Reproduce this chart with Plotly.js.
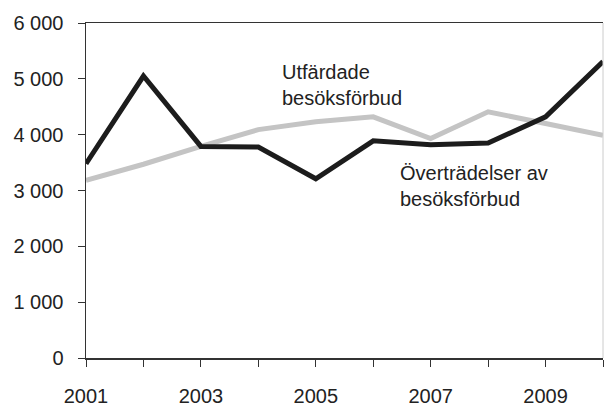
<!DOCTYPE html>
<html>
<head>
<meta charset="utf-8">
<script src="https://cdn.plot.ly/plotly-3.0.1.min.js"></script>
<style>
  html, body { margin: 0; padding: 0; background: #fff; }
  #chart { width: 604px; height: 406px; }
</style>
</head>
<body>
<div id="chart"></div>
<script>
// years and the two series
var years = [2001, 2002, 2003, 2004, 2005, 2006, 2007, 2008, 2009, 2010];
var utfardade = [3480, 5050, 3790, 3780, 3210, 3890, 3820, 3850, 4320, 5310];
var overtradelser = [3180, 3470, 3790, 4090, 4230, 4320, 3930, 4410, 4200, 3990];
var xTickLabels = ['2001', '', '2003', '', '2005', '', '2007', '', '2009', ''];
var yTicks = [0, 1000, 2000, 3000, 4000, 5000, 6000];

var labelUtf = 'Utfärdade<br>besöksförbud';
var labelOvr = 'Överträdelser av<br>besöksförbud';

var trace1 = {
    x: years,
    y: overtradelser,
    mode: 'lines',
    type: 'scatter',
    name: 'Överträdelser av besöksförbud',
    line: { color: '#c4c4c4', width: 5 }
};
var trace2 = {
    x: years,
    y: utfardade,
    mode: 'lines',
    type: 'scatter',
    name: 'Utfärdade besöksförbud',
    line: { color: '#1c1c1c', width: 5 }
};

var layout = {
    width: 604,
    height: 406,
    margin: { l: 86, r: 1, t: 23, b: 48 },
    paper_bgcolor: '#fff',
    plot_bgcolor: '#fff',
    showlegend: false,
    separators: ', ',
    font: { family: 'Liberation Sans, Arial, sans-serif', size: 20, color: '#222' },
    xaxis: {
        range: [2001, 2010],
        tickvals: years,
        ticktext: xTickLabels,
        ticks: 'outside',
        ticklen: 7,
        tickcolor: '#333',
        ticklabelstandoff: 12,
        showgrid: false,
        zeroline: false,
        showline: true,
        linecolor: '#333',
        linewidth: 1.5,
        mirror: true,
        fixedrange: true
    },
    yaxis: {
        range: [0, 6000],
        tickvals: yTicks,
        separatethousands: true,
        ticks: 'outside',
        ticklen: 7,
        tickcolor: '#333',
        ticklabelstandoff: 10,
        showgrid: false,
        zeroline: false,
        showline: true,
        linecolor: '#333',
        linewidth: 1.5,
        fixedrange: true
    },
    shapes: [{
        type: 'line', xref: 'paper', yref: 'paper',
        x0: 1, x1: 1, y0: 0, y1: 1,
        line: { color: '#ccc', width: 1 }
    }],
    annotations: [{
        x: 2004.38, y: 5350,
        text: labelUtf,
        showarrow: false,
        xanchor: 'left', yanchor: 'top', align: 'left'
    }, {
        x: 2006.43, y: 3550,
        text: labelOvr,
        showarrow: false,
        xanchor: 'left', yanchor: 'top', align: 'left'
    }]
};

Plotly.newPlot('chart', [trace1, trace2], layout, { displayModeBar: false, staticPlot: true });
</script>
</body>
</html>
